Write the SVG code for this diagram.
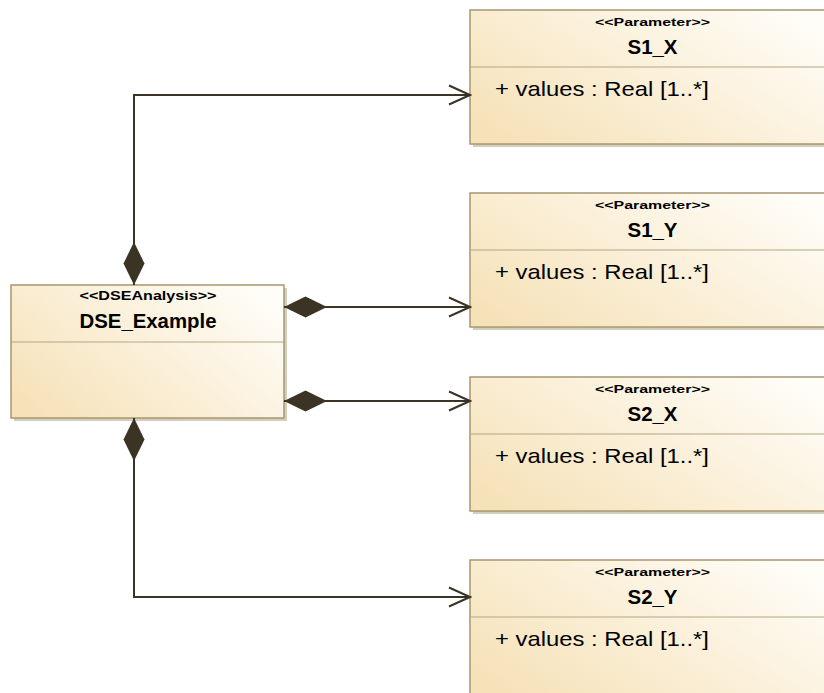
<svg xmlns="http://www.w3.org/2000/svg" width="824" height="693" viewBox="0 0 824 693">
<style>
.shadow{fill:#cdc5b2;opacity:0.85}
.box{fill:url(#boxfill);stroke:#a8976f;stroke-width:1.5}
.div{stroke:#b5a582;stroke-width:1.2}
.st{font-family:"Liberation Sans",Arial,sans-serif;font-weight:bold;fill:#000}
.nm{font-family:"Liberation Sans",Arial,sans-serif;font-weight:bold;font-size:19.5px;fill:#000}
.at{font-family:"Liberation Sans",Arial,sans-serif;font-size:21px;fill:#000}
.conn{fill:none;stroke:#3b3324;stroke-width:2}
</style>
<defs>
<linearGradient id="boxfill" x1="0" y1="0.8" x2="1" y2="0.2">
<stop offset="0" stop-color="#f6e2b9"/>
<stop offset="1" stop-color="#fffdf8"/>
</linearGradient>
<marker id="arrow" viewBox="0 0 24 22" refX="22" refY="11" markerWidth="24" markerHeight="22" markerUnits="userSpaceOnUse" orient="auto">
<path d="M1,1.5 L22,11 L1,20.5" fill="none" stroke="#3b3324" stroke-width="2"/>
</marker>
<marker id="diamond" viewBox="0 0 44 22" refX="0.5" refY="11" markerWidth="44" markerHeight="22" markerUnits="userSpaceOnUse" orient="auto">
<path d="M0.5,11 L22,0.5 L43.5,11 L22,21.5 Z" fill="#3b3324"/>
</marker>
</defs>

<g id="DSE_Example">
<rect class="shadow" x="14" y="288" width="273" height="133"/>
<rect class="box" x="11" y="285" width="273" height="133"/>
<line class="div" x1="11" y1="342" x2="284" y2="342"/>
<text class="st" x="148" y="300" font-size="12.5" text-anchor="middle" textLength="137" lengthAdjust="spacingAndGlyphs">&lt;&lt;DSEAnalysis&gt;&gt;</text>
<text class="nm" x="148" y="328" text-anchor="middle" textLength="137" lengthAdjust="spacingAndGlyphs">DSE_Example</text>
</g>

<g id="S1_X">
<rect class="shadow" x="473" y="13" width="365" height="134"/>
<rect class="box" x="470" y="10" width="365" height="134"/>
<line class="div" x1="470" y1="67" x2="835" y2="67"/>
<text class="st" x="652.5" y="25.5" font-size="11.5" text-anchor="middle" textLength="115" lengthAdjust="spacingAndGlyphs">&lt;&lt;Parameter&gt;&gt;</text>
<text class="nm" x="652.5" y="54" text-anchor="middle" textLength="50" lengthAdjust="spacingAndGlyphs">S1_X</text>
<text class="at" x="495" y="96" textLength="214" lengthAdjust="spacingAndGlyphs">+ values : Real [1..*]</text>
</g>

<g id="S1_Y">
<rect class="shadow" x="473" y="196" width="365" height="134"/>
<rect class="box" x="470" y="193" width="365" height="134"/>
<line class="div" x1="470" y1="250" x2="835" y2="250"/>
<text class="st" x="652.5" y="208.5" font-size="11.5" text-anchor="middle" textLength="115" lengthAdjust="spacingAndGlyphs">&lt;&lt;Parameter&gt;&gt;</text>
<text class="nm" x="652.5" y="237" text-anchor="middle" textLength="50" lengthAdjust="spacingAndGlyphs">S1_Y</text>
<text class="at" x="495" y="279" textLength="214" lengthAdjust="spacingAndGlyphs">+ values : Real [1..*]</text>
</g>

<g id="S2_X">
<rect class="shadow" x="473" y="380" width="365" height="134"/>
<rect class="box" x="470" y="377" width="365" height="134"/>
<line class="div" x1="470" y1="434" x2="835" y2="434"/>
<text class="st" x="652.5" y="392.5" font-size="11.5" text-anchor="middle" textLength="115" lengthAdjust="spacingAndGlyphs">&lt;&lt;Parameter&gt;&gt;</text>
<text class="nm" x="652.5" y="421" text-anchor="middle" textLength="50" lengthAdjust="spacingAndGlyphs">S2_X</text>
<text class="at" x="495" y="463" textLength="214" lengthAdjust="spacingAndGlyphs">+ values : Real [1..*]</text>
</g>

<g id="S2_Y">
<rect class="shadow" x="473" y="563" width="365" height="134"/>
<rect class="box" x="470" y="560" width="365" height="134"/>
<line class="div" x1="470" y1="617" x2="835" y2="617"/>
<text class="st" x="652.5" y="575.5" font-size="11.5" text-anchor="middle" textLength="115" lengthAdjust="spacingAndGlyphs">&lt;&lt;Parameter&gt;&gt;</text>
<text class="nm" x="652.5" y="604" text-anchor="middle" textLength="50" lengthAdjust="spacingAndGlyphs">S2_Y</text>
<text class="at" x="495" y="646" textLength="214" lengthAdjust="spacingAndGlyphs">+ values : Real [1..*]</text>
</g>

<g id="connectors">
<path class="conn" d="M134,285 V95 H470" marker-start="url(#diamond)" marker-end="url(#arrow)"/>
<path class="conn" d="M284,307 H470" marker-start="url(#diamond)" marker-end="url(#arrow)"/>
<path class="conn" d="M284,401 H470" marker-start="url(#diamond)" marker-end="url(#arrow)"/>
<path class="conn" d="M134,418 V597 H470" marker-start="url(#diamond)" marker-end="url(#arrow)"/>
</g>
</svg>
